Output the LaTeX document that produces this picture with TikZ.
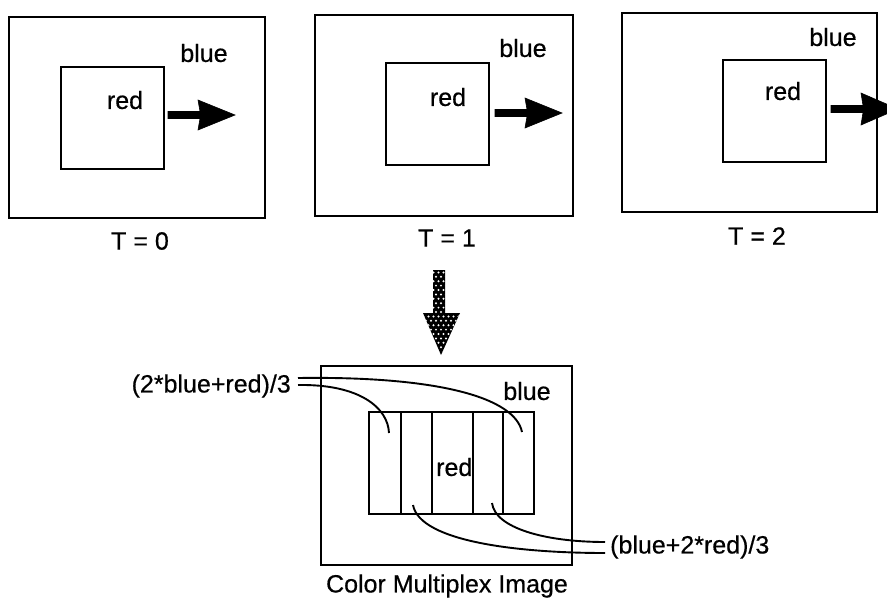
\documentclass[tikz,border=0pt]{standalone}
\usepackage{fontspec}
\setmainfont{Liberation Sans}
\newfontface\heavyface{Liberation Sans}[FakeBold=0.5]
\begin{document}
\begin{tikzpicture}[x=1pt,y=-1pt,
  frame/.style={draw,line width=2pt,inner sep=0pt},
  lbl/.style={inner sep=0pt,font=\heavyface\fontsize{25}{29}\selectfont},
  conn/.style={line width=1.9pt},
  bigarrow/.style={fill=black,draw=black,line width=0.6pt}]
\useasboundingbox (0,0) rectangle (887,603);
% Frame T=0
\node[frame,minimum width=256pt,minimum height=201pt] (o0) at (137,117.5) {};
\node[frame,minimum width=103pt,minimum height=102pt] (i0) at (112.5,118) {};
\node[lbl] (b0) at (204,53) {blue};
\node[lbl] (r0) at (125,100) {red};
\node[lbl] (t0) at (140,241) {T = 0};
\fill[bigarrow] (168,111.5) -- (200,111.5) -- (198,100) -- (235,115) -- (198,130) -- (200,118.5) -- (168,118.5) -- cycle;
% Frame T=1
\node[frame,minimum width=258pt,minimum height=201pt] (o1) at (444,115.5) {};
\node[frame,minimum width=103pt,minimum height=102pt] (i1) at (437.5,114) {};
\node[lbl] (b1) at (523,48) {blue};
\node[lbl] (r1) at (448,97) {red};
\node[lbl] (t1) at (447,238) {T = 1};
\fill[bigarrow] (495,109.5) -- (527,109.5) -- (525,98) -- (562,113) -- (525,128) -- (527,116.5) -- (495,116.5) -- cycle;
% Frame T=2
\node[frame,minimum width=255pt,minimum height=199pt] (o2) at (749.5,112.5) {};
\node[frame,minimum width=103pt,minimum height=102pt] (i2) at (774.5,111) {};
\node[lbl] (b2) at (833,37) {blue};
\node[lbl] (r2) at (783,91) {red};
\node[lbl] (t2) at (757,236) {T = 2};
\fill[bigarrow] (831,105.5) -- (863,105.5) -- (861,93) -- (898,109) -- (861,125) -- (863,112.5) -- (831,112.5) -- cycle;
% Hatched arrow
\begin{scope}
\clip (433,270) -- (445,270) -- (445,313) -- (460,313) -- (441,355) -- (423,313) -- (433,313) -- cycle;
\fill[black] (420,265) rectangle (465,360);
\foreach \ii in {0,...,20} \foreach \jj in {0,...,9}
  \fill[white] ({421+\jj*5+mod(\ii,2)*2.5},{268+\ii*4.4}) circle (1.1);
\end{scope}
% Multiplex image
\node[frame,minimum width=251pt,minimum height=199pt] (om) at (446.5,465.5) {};
\node[frame,minimum width=165pt,minimum height=102pt] (im) at (451.5,463) {};
\foreach \xx in {401,432,473,503} \draw[line width=2pt] (\xx,412) -- (\xx,514);
\node[lbl] (bm) at (527,391) {blue};
\node[lbl,anchor=west] (rm) at (436,467) {red};
\node[lbl] (cap) at (447,586) {Color Multiplex Image};
\node[lbl,anchor=east] (la) at (291,386) {(2*blue+red)/3};
\node[lbl,anchor=west] (lb) at (610,547) {(blue+2*red)/3};
\coordinate (s1) at (389,433);
\coordinate (s5) at (522,432);
\coordinate (s2) at (413,505);
\coordinate (s4) at (492,503);
\coordinate (la1) at (298,378);
\coordinate (la2) at (298,385);
\coordinate (lb1) at (605,542);
\coordinate (lb2) at (605,553);
\draw[conn] (la1) .. controls (440,376) and (515,398) .. (s5);
\draw[conn] (la2) .. controls (360,384) and (388,408) .. (s1);
\draw[conn] (s4) .. controls (495,528) and (545,542) .. (lb1);
\draw[conn] (s2) .. controls (420,542) and (520,553) .. (lb2);
\end{tikzpicture}
\end{document}
